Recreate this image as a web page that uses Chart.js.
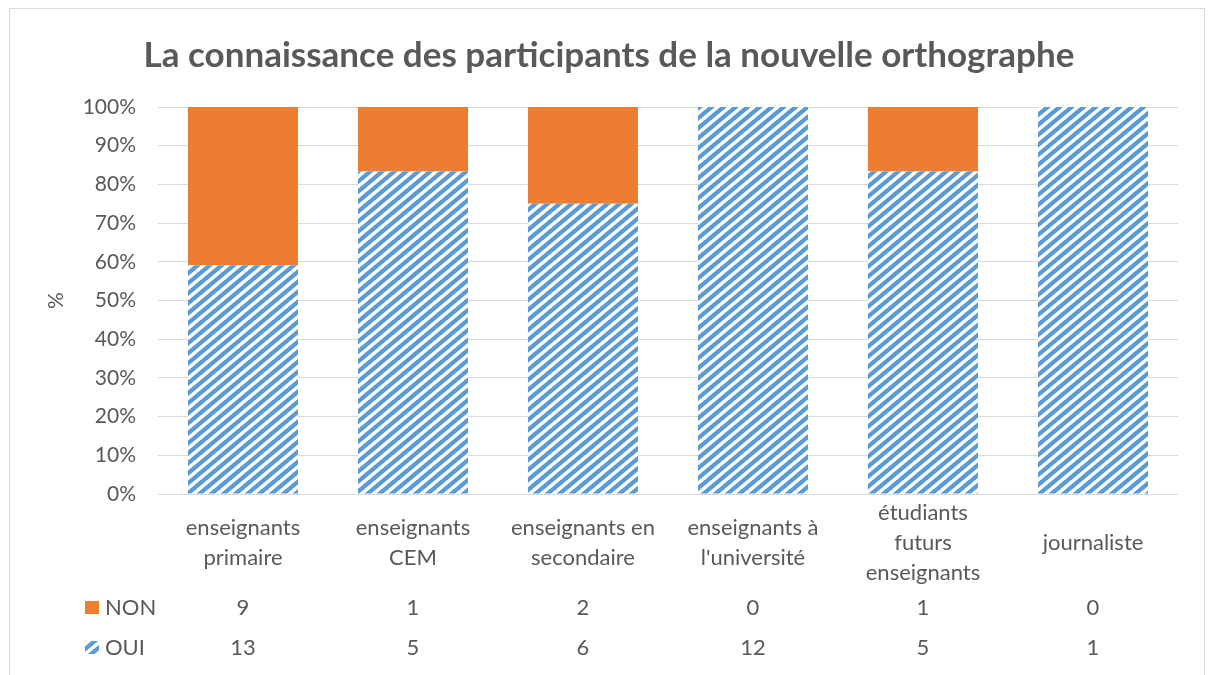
<!DOCTYPE html>
<html>
<head>
<meta charset="utf-8">
<script src="https://cdn.jsdelivr.net/npm/chart.js@4"></script>
<style>
  body { margin: 0; background: #fff; overflow: hidden; }
  #wrap { position: relative; width: 1210px; height: 675px; }
  #frame { position: absolute; left: 9px; top: 8px; width: 1196px; height: 720px; border: 1px solid #d9d9d9; box-sizing: border-box; }
  #chart { position: absolute; left: 0; top: 0; }
</style>
</head>
<body>
<div id="wrap">
  <div id="frame"></div>
  <canvas id="chart" width="1210" height="675"></canvas>
</div>
<script>
// catégories et effectifs
const categories = [
    ['enseignants', 'primaire'],
    ['enseignants', 'CEM'],
    ['enseignants en', 'secondaire'],
    ['enseignants à', "l'université"],
    ['étudiants', 'futurs', 'enseignants'],
    'journaliste'
];
const ouiCounts = [13, 5, 6, 12, 5, 1];
const nonCounts = [9, 1, 2, 0, 1, 0];
const yTicks = [0, 10, 20, 30, 40, 50, 60, 70, 80, 90, 100];

const textColor = '#595959';
const fontName = 'Lato, "Open Sans", sans-serif';

// pourcentages pour le graphique empilé à 100%
const ouiPct = ouiCounts.map((v, i) => v / (v + nonCounts[i]) * 100);
const nonPct = nonCounts.map((v, i) => v / (v + ouiCounts[i]) * 100);

// motif hachuré bleu
function makeHatch() {
    const w = 12, h = 10;
    const c = document.createElement('canvas');
    c.width = w; c.height = h;
    const g = c.getContext('2d');
    g.fillStyle = '#fff';
    g.fillRect(0, 0, w, h);
    g.strokeStyle = '#5B9BD5';
    g.lineWidth = 4.3;
    g.beginPath();
    for (let k = -1; k <= 1; k++) {
        g.moveTo(k * w - w, 2 * h);
        g.lineTo(k * w + 2 * w, -h);
    }
    g.stroke();
    return g.createPattern(c, 'repeat');
}
const hatch = makeHatch();

// tableau de données sous l'axe
const dataTable = {
    id: 'dataTable',
    afterDraw(chart) {
        const ctx = chart.ctx;
        const x = chart.scales.x;
        const rows = [
            { label: 'NON', values: nonCounts, y: 608, fill: '#ED7D31' },
            { label: 'OUI', values: ouiCounts, y: 648, fill: hatch }
        ];
        ctx.save();
        ctx.font = '22px ' + fontName;
        ctx.textBaseline = 'middle';
        rows.forEach(r => {
            ctx.fillStyle = r.fill;
            ctx.fillRect(85, r.y - 7, 14, 13);
            ctx.fillStyle = textColor;
            ctx.textAlign = 'left';
            ctx.fillText(r.label, 105, r.y);
            ctx.textAlign = 'center';
            r.values.forEach((v, i) => {
                ctx.fillText(String(v), x.getPixelForValue(i), r.y);
            });
        });
        ctx.restore();
    }
};

new Chart(document.getElementById('chart'), {
    type: 'bar',
    data: {
        labels: categories,
        datasets: [
            { label: 'OUI', data: ouiPct, backgroundColor: hatch },
            { label: 'NON', data: nonPct, backgroundColor: '#ED7D31' }
        ]
    },
    options: {
        responsive: false,
        animation: false,
        layout: { padding: { left: 40, right: 32, top: 0, bottom: 0 } },
        datasets: { bar: { barPercentage: 0.647, categoryPercentage: 1 } },
        plugins: {
            legend: { display: false },
            tooltip: { enabled: false },
            title: {
                display: true,
                text: 'La connaissance des participants de la nouvelle orthographe',
                color: textColor,
                font: { family: fontName, size: 35, weight: 'bold' },
                padding: { top: 35, bottom: 30 }
            }
        },
        scales: {
            x: {
                stacked: true,
                grid: { display: false },
                border: { display: false },
                ticks: {
                    color: textColor,
                    font: { family: fontName, size: 22, lineHeight: 1.364 },
                    crossAlign: 'center',
                    maxRotation: 0,
                    autoSkip: false,
                    padding: 11
                },
                afterFit(scale) { scale.height = 181; }
            },
            y: {
                stacked: true,
                min: 0,
                max: 100,
                afterBuildTicks(scale) { scale.ticks = yTicks.map(v => ({ value: v })); },
                grid: { color: '#d9d9d9', drawTicks: false },
                border: { display: false },
                ticks: {
                    color: textColor,
                    font: { family: fontName, size: 21 },
                    padding: 22,
                    callback: v => v + '%'
                },
                title: {
                    display: true,
                    text: '%',
                    color: textColor,
                    font: { family: fontName, size: 21 },
                    padding: 4
                },
                afterFit(scale) { scale.width = 118; }
            }
        }
    },
    plugins: [dataTable]
});
</script>
</body>
</html>
